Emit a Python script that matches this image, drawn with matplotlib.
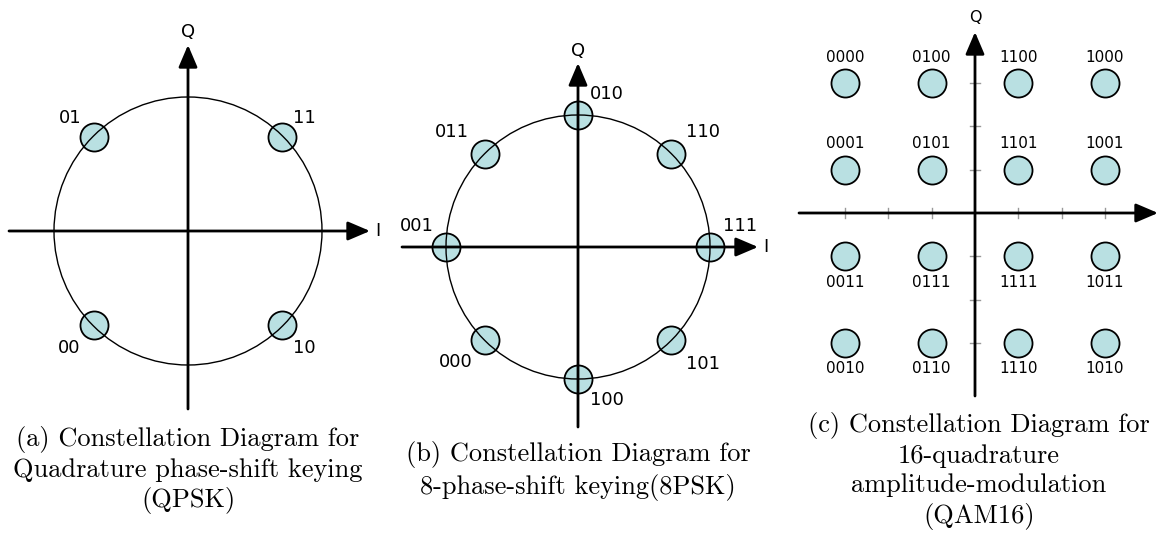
import matplotlib
matplotlib.use("Agg")
import matplotlib.pyplot as plt

W, H, DPI = 1159, 536, 100

# ---------------- data ----------------
qpsk_I = [-0.70, 0.70, -0.70, 0.70]
qpsk_Q = [0.70, 0.70, -0.70, -0.70]
qpsk_labels = ["01", "11", "00", "10"]

psk8_I = [1.0, 0.707, 0.0, -0.707, -1.0, -0.707, 0.0, 0.707]
psk8_Q = [0.0, 0.707, 1.0, 0.707, 0.0, -0.707, -1.0, -0.707]
psk8_labels = ["111", "110", "010", "011", "001", "000", "100", "101"]

qam_I = [-3, -1, 1, 3] * 4
qam_Q = [3] * 4 + [1] * 4 + [-1] * 4 + [-3] * 4
qam_labels = ["0000", "0100", "1100", "1000",
              "0001", "0101", "1101", "1001",
              "0011", "0111", "1111", "1011",
              "0010", "0110", "1110", "1010"]
qam_ticks = [-3, -2, -1, 1, 2, 3]

captions = [
    "(a) Constellation Diagram for\nQuadrature phase-shift keying\n(QPSK)",
    "(b) Constellation Diagram for\n8-phase-shift keying(8PSK)",
    "(c) Constellation Diagram for\n16-quadrature\namplitude-modulation\n(QAM16)",
]

# ---------------- style ----------------
FILL = "#b9e0e2"
MS = 408  # marker area (pt^2)
PX = 72.0 / DPI  # pixels -> points

fig = plt.figure(figsize=(W / DPI, H / DPI), dpi=DPI)


def make_ax(cx, cy, s, box):
    x0, y0, x1, y1 = box
    ax = fig.add_axes([x0 / W, 1 - y1 / H, (x1 - x0) / W, (y1 - y0) / H])
    ax.set_xlim((x0 - cx) / s, (x1 - cx) / s)
    ax.set_ylim((cy - y1) / s, (cy - y0) / s)
    ax.axis("off")
    return ax


def arrow(ax, start, tip, lw=2.0):
    ax.annotate("", xy=tip, xytext=start, zorder=4,
                arrowprops=dict(arrowstyle="-|>,head_length=0.75,head_width=0.32",
                                lw=lw, color="black", shrinkA=0, shrinkB=0,
                                mutation_scale=18))


def draw_axes(ax, xl, xr, yb, yt, qgap=14, lab=13):
    arrow(ax, (xl, 0), (xr, 0))
    arrow(ax, (0, yb), (0, yt))
    ax.annotate("Q", (0, yt), xytext=(0, qgap * PX), textcoords="offset points",
                ha="center", va="center", fontsize=lab)


# ---- (a) QPSK ----
s_a = 134.0
ax = make_ax(188, 231, s_a, (0, 10, 385, 425))
draw_axes(ax, -179 / s_a, 182 / s_a, -178 / s_a, 186 / s_a, qgap=13, lab=13)
ax.annotate("I", (182 / s_a, 0), xytext=(5 * PX, 0), textcoords="offset points",
            ha="left", va="center", fontsize=13)
ax.add_patch(plt.Circle((0, 0), 1.0, fill=False, lw=1.0, color="black", zorder=3))
ax.scatter(qpsk_I, qpsk_Q, s=MS, facecolor=FILL, edgecolor="black", lw=1.3, zorder=2)
offs_a = [(-24, 19), (23, 19), (-25, -23), (23, -23)]
for x, y, t, (dx, dy) in zip(qpsk_I, qpsk_Q, qpsk_labels, offs_a):
    ax.annotate(t, (x, y), xytext=(dx * PX, dy * PX), textcoords="offset points",
                ha="center", va="center", fontsize=13)

# ---- (b) 8PSK ----
s_b = 132.0
ax = make_ax(578, 247, s_b, (390, 20, 775, 430))
draw_axes(ax, -176 / s_b, 180 / s_b, -180 / s_b, 184 / s_b, qgap=12, lab=13)
ax.annotate("I", (180 / s_b, 0), xytext=(5 * PX, 0), textcoords="offset points",
            ha="left", va="center", fontsize=13)
ax.add_patch(plt.Circle((0, 0), 1.0, fill=False, lw=1.0, color="black", zorder=3))
ax.scatter(psk8_I, psk8_Q, s=MS, facecolor=FILL, edgecolor="black", lw=1.3, zorder=2)
offs_b = [(30, 21), (32, 22), (29, 21), (-33, 22), (-29, 21), (-29, -22), (29, -21), (32, -24)]
for x, y, t, (dx, dy) in zip(psk8_I, psk8_Q, psk8_labels, offs_b):
    ax.annotate(t, (x, y), xytext=(dx * PX, dy * PX), textcoords="offset points",
                ha="center", va="center", fontsize=13)

# ---- (c) QAM16 ----
s_c = 43.3
ax = make_ax(975, 213, s_c, (780, 5, 1159, 420))
for t in qam_ticks:
    ax.plot([t, t], [-5 / s_c, 5 / s_c], color="#999999", lw=1.0, zorder=1)
    ax.plot([-5 / s_c, 5 / s_c], [t, t], color="#999999", lw=1.0, zorder=1)
draw_axes(ax, -176 / s_c, 183 / s_c, -183 / s_c, 181 / s_c, qgap=15, lab=11.5)
ax.scatter(qam_I, qam_Q, s=MS, facecolor=FILL, edgecolor="black", lw=1.3, zorder=2)
for x, y, t in zip(qam_I, qam_Q, qam_labels):
    dy = 26 if y > 0 else -26
    ax.annotate(t, (x, y), xytext=(0, dy * PX), textcoords="offset points",
                ha="center", va="center", fontsize=11)

# ---- captions ----
cap_pos = [(188, 470), (578, 471), (979, 471)]
for (cx, cy), txt in zip(cap_pos, captions):
    fig.text(cx / W, 1 - cy / H, txt, ha="center", va="center",
             family="cmr10", fontsize=19, linespacing=1.28)

fig.savefig("out.png", dpi=DPI)
